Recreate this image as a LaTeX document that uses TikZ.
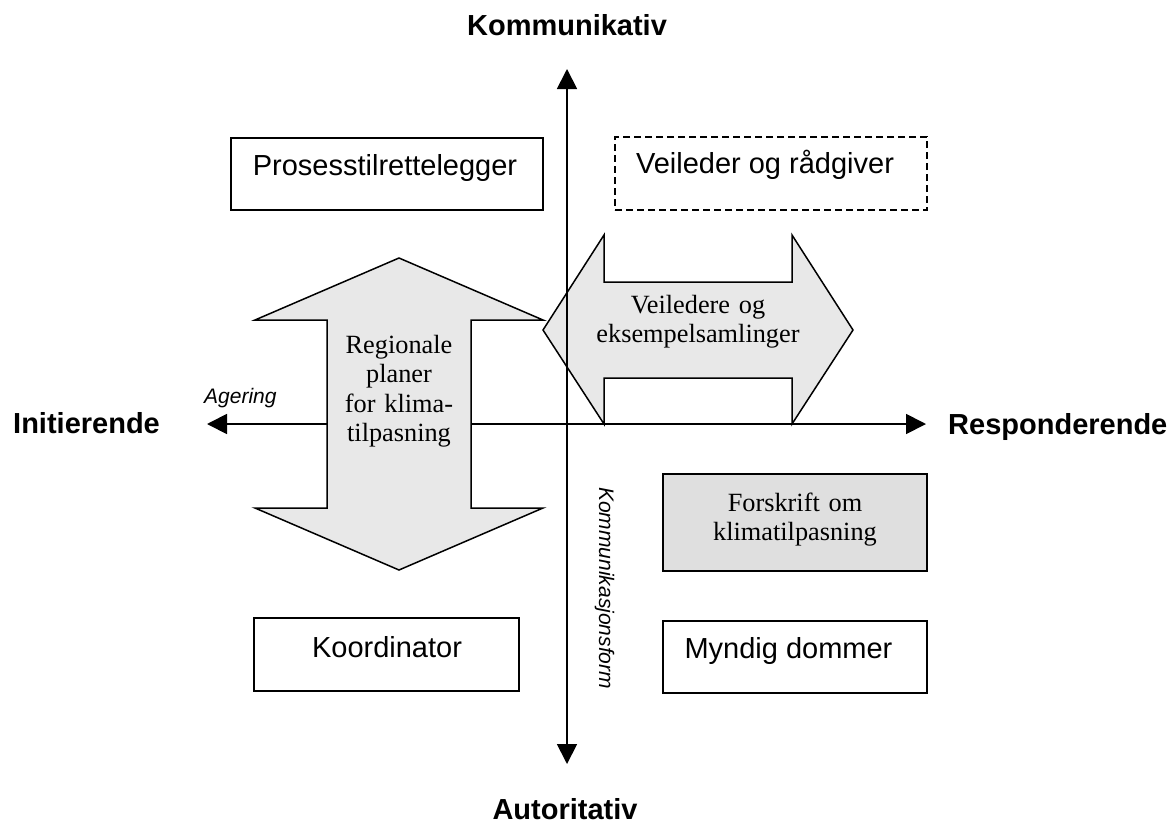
\documentclass[tikz,border=0pt]{standalone}
\usepackage{fontspec}
\setmainfont{Liberation Serif}
\newfontfamily\arialf{Liberation Sans}
\usetikzlibrary{arrows.meta}
\begin{document}
\begin{tikzpicture}[x=1pt,y=-1pt,
  axisline/.style={line width=1.8pt,
    {Triangle[length=20pt,width=20pt]}-{Triangle[length=20pt,width=20pt]}},
  bigarrow/.style={fill=gray!18, draw=black, line width=1.5pt, line join=miter},
  rolebox/.style={draw=black, line width=1.8pt, inner sep=0pt},
  dashbox/.style={rolebox, dash pattern=on 7pt off 4pt},
  sanslabel/.style={font=\arialf\fontsize{29}{33}\selectfont, inner sep=0pt},
  axislabel/.style={font=\arialf\bfseries\fontsize{29}{33}\selectfont, inner sep=0pt},
  smalllabel/.style={font=\arialf\itshape\fontsize{21}{25}\selectfont, inner sep=0pt},
  seriflabel/.style={font=\fontsize{26.3}{29.5}\selectfont, inner sep=0pt, align=center}
]
\useasboundingbox (0,0) rectangle (1174,827);

% axis end points
\coordinate (axtop) at (567,69);
\coordinate (axbot) at (567,764);
\coordinate (axleft) at (207,424);
\coordinate (axright) at (926,424);

% horizontal axis (behind the arrows)
\draw[axisline] (axleft) -- (axright);

% vertical double arrow
\draw[bigarrow] (399,258) -- (543,320) -- (471,320) -- (471,508) -- (543,508)
  -- (399,570) -- (255,508) -- (327,508) -- (327,320) -- (255,320) -- cycle;

% horizontal double arrow
\draw[bigarrow] (543,330) -- (604,235) -- (604,282) -- (792,282) -- (792,235)
  -- (853,330) -- (792,424) -- (792,378) -- (604,378) -- (604,424) -- cycle;

% vertical axis (on top)
\draw[axisline] (axbot) -- (axtop);

% axis labels
\node[axislabel, anchor=base] (kom) at (567,35) {Kommunikativ};
\node[axislabel, anchor=base] (aut) at (565,819) {Autoritativ};
\node[axislabel, anchor=base west] (ini) at (13,433) {Initierende};
\node[axislabel, anchor=base west] (res) at (948,434) {Responderende};
\node[smalllabel, anchor=base west] (age) at (204,403) {Agering};
\node[smalllabel, anchor=base west, rotate=-90] (kform) at (599,487) {Kommunikasjonsform};

% role boxes
\node[rolebox, minimum width=312pt, minimum height=72pt] (pro) at (387,174) {};
\node[sanslabel, anchor=base] (proT) at (385,175) {Prosesstilrettelegger};

\node[dashbox, minimum width=312pt, minimum height=73pt] (vei) at (771,173.5) {};
\node[sanslabel, anchor=base] (veiT) at (765,173) {Veileder og rådgiver};

\node[rolebox, minimum width=265pt, minimum height=73pt] (koo) at (386.5,654.5) {};
\node[sanslabel, anchor=base] (kooT) at (387,657) {Koordinator};

\node[rolebox, minimum width=264pt, minimum height=72pt] (myn) at (795,657) {};
\node[sanslabel, anchor=base] (mynT) at (788.5,658) {Myndig dommer};

\node[rolebox, fill=gray!25, minimum width=264pt, minimum height=97pt] (for) at (795,522.5) {};
\node[seriflabel, text width=250pt, anchor=base] (forT) at (795,511) {Forskrift om\\klimatilpasning};

% texts in the big arrows
\node[seriflabel, text width=150pt, anchor=base] (regT) at (399,353) {Regionale\\planer\\for klima-\\tilpasning};
\node[seriflabel, text width=250pt, anchor=base] (veiledT) at (698,313) {Veiledere og\\eksempelsamlinger};
\end{tikzpicture}
\end{document}
